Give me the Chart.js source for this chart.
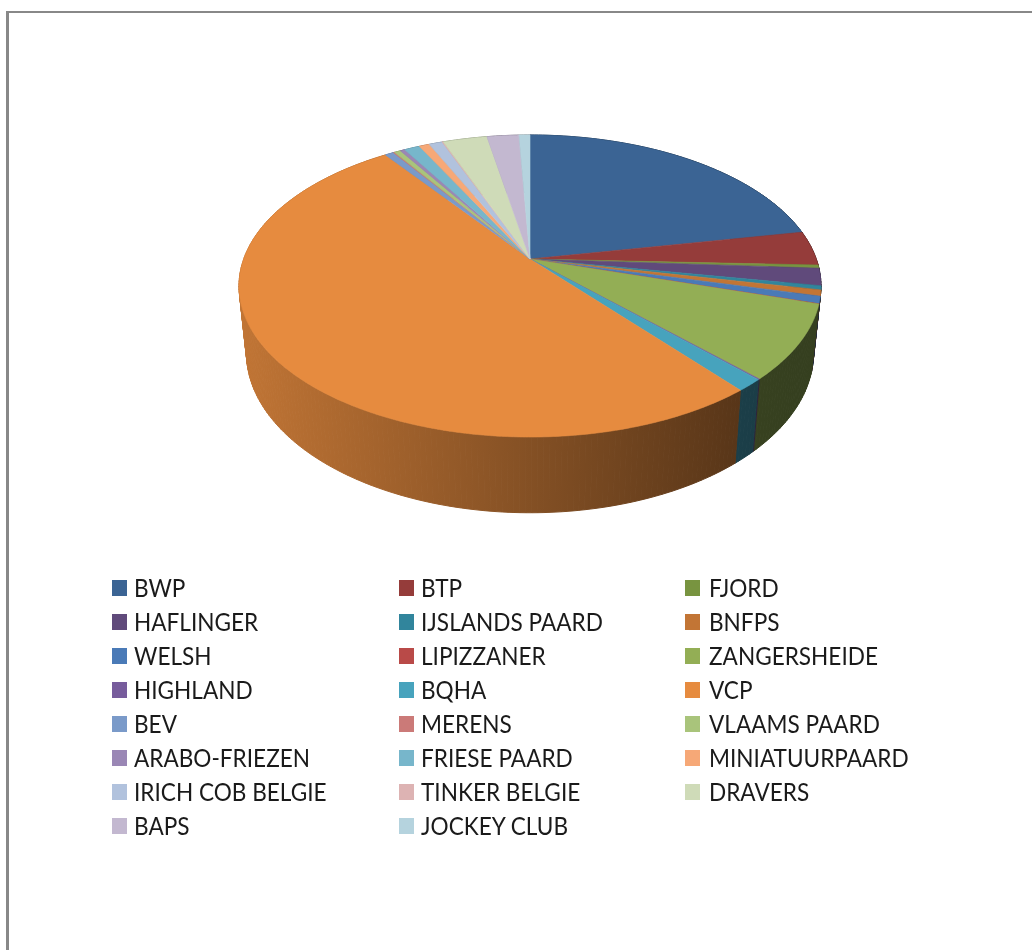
<!DOCTYPE html>
<html lang="nl">

<head>
    <meta charset="UTF-8">
    <title>Paardenstamboeken</title>
    <script src="https://cdn.jsdelivr.net/npm/chart.js"></script>
    <style>
        html, body { margin: 0; background: #fff; }
        body { width: 1032px; height: 950px; overflow: hidden; position: relative; }
        .frame-left { position: absolute; left: 6px; top: 11px; width: 3px; height: 939px; background: #888; }
        .frame-top { position: absolute; left: 6px; top: 11px; width: 1026px; height: 2px; background: #888; }
        #pie { position: absolute; left: 0; top: 0; }
        .item { position: absolute; height: 34px; font: 22.6px Lato, sans-serif; color: #1a1a1a; white-space: nowrap; }
        .item i { position: absolute; left: 0; top: 9px; width: 15px; height: 16px; }
        .item span { position: absolute; left: 22px; top: 0; line-height: 34px; transform-origin: left center; transform: scaleY(1.1); }
        .item.last span { left: 24px; }
    </style>
</head>

<body>
    <div class="frame-left"></div>
    <div class="frame-top"></div>
    <canvas id="pie" width="1032" height="950"></canvas>
    <div id="legend"></div>

    <script>
        const labels = ['BWP', 'BTP', 'FJORD', 'HAFLINGER', 'IJSLANDS PAARD', 'BNFPS', 'WELSH', 'LIPIZZANER',
            'ZANGERSHEIDE', 'HIGHLAND', 'BQHA', 'VCP', 'BEV', 'MERENS', 'VLAAMS PAARD', 'ARABO-FRIEZEN',
            'FRIESE PAARD', 'MINIATUURPAARD', 'IRICH COB BELGIE', 'TINKER BELGIE', 'DRAVERS', 'BAPS', 'JOCKEY CLUB'];
        const values = [21.94, 3.69, 0.33, 1.85, 0.43, 0.64, 0.78, 0.03,
            7.97, 0.08, 1.31, 51.05, 0.58, 0.08, 0.42, 0.31,
            1.03, 0.68, 0.88, 0.08, 2.92, 2.11, 0.72];
        const colors = ['#3b6494', '#953c3a', '#789440', '#604a7b', '#31859c', '#c27535', '#4a7ab7', '#b94a48',
            '#93ae55', '#775c9c', '#47a3bd', '#e68b3f', '#7a9ac9', '#cb7a78', '#a9c47b', '#9a87b5',
            '#77b6cb', '#f6a877', '#b1c2dd', '#ddb3b3', '#cfdbb8', '#c3b8d0', '#b5d3de'];

        // perspective of the tilted disc: top face and bottom face
        const centerX = 530;
        const tilt = 0.1788;
        const topFace = { rx: 286.3, ry: 146.2, y: 259 };
        const bottomFace = { rx: 279, ry: 155, y: 324 };

        function project(face, angle) {
            const u = Math.cos(angle);
            const v = Math.sin(angle);
            const w = 1 - tilt * v;
            return { x: centerX + face.rx * u / w, y: face.y + face.ry * v / w, v: v };
        }

        function shade(hex, f) {
            const n = parseInt(hex.slice(1), 16);
            return `rgb(${(n >> 16) * f}, ${((n >> 8) & 255) * f}, ${(n & 255) * f})`;
        }

        const pie3d = {
            id: 'pie3d',
            beforeDatasetsDraw(chart) {
                const ctx = chart.ctx;
                const arcs = chart.getDatasetMeta(0).data;
                const step = Math.PI / 180;

                // wall colour runs from light on the left to dark on the right
                const wallFills = colors.map(c => {
                    const g = ctx.createLinearGradient(240, 0, 800, 0);
                    g.addColorStop(0, shade(c, 0.84));
                    g.addColorStop(0.9, shade(c, 0.38));
                    g.addColorStop(1, shade(c, 0.36));
                    return g;
                });

                // side wall, back to front
                let quads = [];
                arcs.forEach((arc, i) => {
                    for (let a = arc.startAngle; a < arc.endAngle; a += step) {
                        const b = Math.min(a + step, arc.endAngle);
                        quads.push({
                            i: i,
                            t1: project(topFace, a), t2: project(topFace, b),
                            b1: project(bottomFace, a), b2: project(bottomFace, b)
                        });
                    }
                });
                quads.sort((p, q) => p.t1.v - q.t1.v);
                ctx.lineWidth = 1;
                quads.forEach(q => {
                    ctx.fillStyle = wallFills[q.i];
                    ctx.strokeStyle = wallFills[q.i];
                    ctx.beginPath();
                    ctx.moveTo(q.t1.x, q.t1.y);
                    ctx.lineTo(q.t2.x, q.t2.y);
                    ctx.lineTo(q.b2.x, q.b2.y);
                    ctx.lineTo(q.b1.x, q.b1.y);
                    ctx.closePath();
                    ctx.fill();
                    ctx.stroke();
                });

                // top face
                ctx.lineWidth = 0.6;
                arcs.forEach((arc, i) => {
                    ctx.fillStyle = colors[i];
                    ctx.strokeStyle = colors[i];
                    ctx.beginPath();
                    ctx.moveTo(centerX, topFace.y);
                    for (let a = arc.startAngle; a < arc.endAngle; a += step / 2) {
                        const p = project(topFace, a);
                        ctx.lineTo(p.x, p.y);
                    }
                    const end = project(topFace, arc.endAngle);
                    ctx.lineTo(end.x, end.y);
                    ctx.closePath();
                    ctx.fill();
                    ctx.stroke();
                });
                return false;
            }
        };

        new Chart(document.getElementById('pie'), {
            type: 'pie',
            data: { labels: labels, datasets: [{ data: values, backgroundColor: colors }] },
            options: {
                responsive: false,
                animation: false,
                plugins: { legend: { display: false }, tooltip: { enabled: false } }
            },
            plugins: [pie3d]
        });

        // legend, three columns
        const columnX = [112, 399, 685];
        const rowY = [571, 605, 639, 673, 707, 741, 775, 809];
        let legendHtml = '';
        labels.forEach((label, i) => {
            const x = columnX[i % 3];
            const y = rowY[Math.floor(i / 3)];
            const cls = i % 3 == 2 ? 'item last' : 'item';
            legendHtml += `<div class="${cls}" style="left:${x}px;top:${y}px"><i style="background:${colors[i]}"></i><span>${label}</span></div>`;
        });
        document.getElementById('legend').innerHTML = legendHtml;
    </script>
</body>

</html>
